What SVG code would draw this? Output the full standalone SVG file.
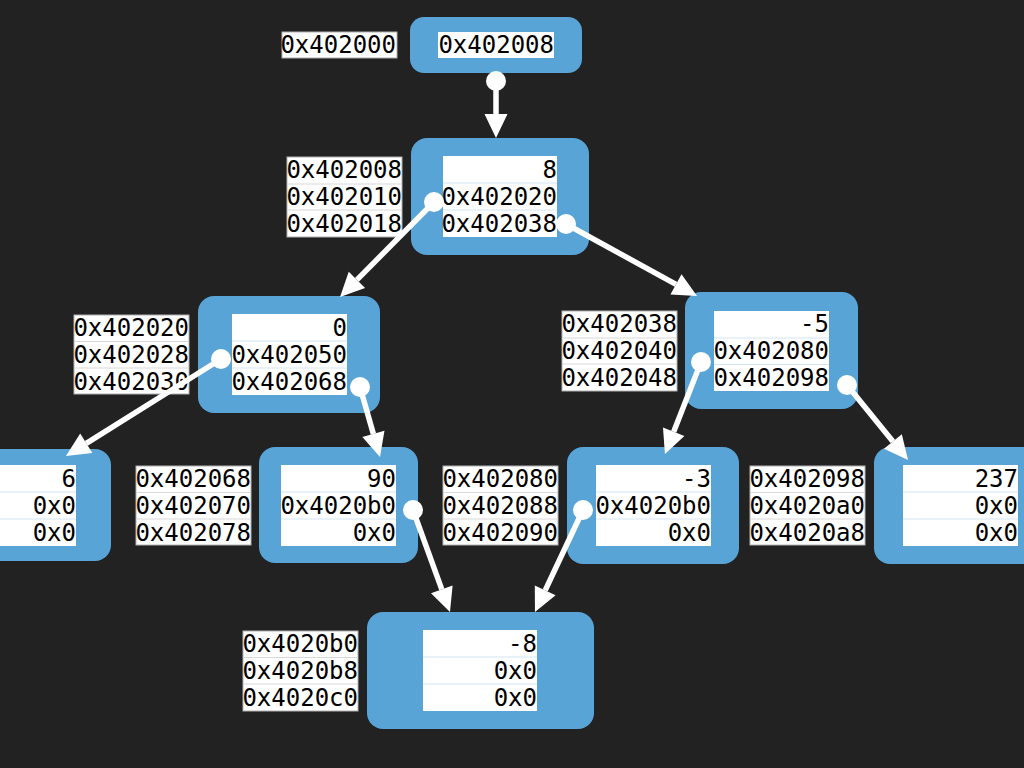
<svg xmlns="http://www.w3.org/2000/svg" width="1024" height="768" viewBox="0 0 1024 768">
<defs>
<style>
.bg{fill:#222222}
.node{fill:#58a4d6}
.tbl{fill:#ffffff}
.sepi{stroke:#d4e6f3;stroke-width:1.2}
.lbl{fill:#ffffff;stroke:#b0b0b0;stroke-width:1}
.sepl{stroke:#d8d8d8;stroke-width:1.2}
text{font-family:"DejaVu Sans Mono","Liberation Mono",monospace;font-size:24px;fill:#000;text-anchor:end}
.edge{stroke:#ffffff;stroke-width:5.5;fill:none;marker-end:url(#ah)}
.dot{fill:#ffffff}
</style>
<marker id="ah" markerUnits="userSpaceOnUse" viewBox="-1 -12 26 24" markerWidth="26" markerHeight="24" refX="0" refY="0" orient="auto">
<path d="M0,-11.5 L24,0 L0,11.5 z" fill="#ffffff"/>
</marker>
</defs>
<rect class="bg" x="0" y="0" width="1024" height="768"/>

<g id="node-top">
<rect class="lbl" x="282" y="32" width="115" height="26"/>
<text x="396" y="53">0x402000</text>
<rect class="node" x="410" y="17" width="172" height="56" rx="14"/>
<rect class="tbl" x="438" y="32" width="116" height="26"/>
<text x="554" y="53">0x402008</text>
</g>

<g id="node-a">
<rect class="lbl" x="287" y="157" width="115" height="80"/>
<line class="sepl" x1="287" y1="184" x2="402" y2="184"/>
<line class="sepl" x1="287" y1="210" x2="402" y2="210"/>
<text x="402" y="178">0x402008</text>
<text x="402" y="205">0x402010</text>
<text x="402" y="232">0x402018</text>
<rect class="node" x="411" y="138" width="178" height="117" rx="16"/>
<rect class="tbl" x="443" y="156" width="114" height="81"/>
<line class="sepi" x1="443" y1="183" x2="557" y2="183"/>
<line class="sepi" x1="443" y1="210" x2="557" y2="210"/>
<text x="557" y="177.5">8</text>
<text x="557" y="204.5">0x402020</text>
<text x="557" y="231.5">0x402038</text>
</g>

<g id="node-b">
<rect class="lbl" x="74" y="315" width="115" height="79"/>
<line class="sepl" x1="74" y1="341.5" x2="189" y2="341.5"/>
<line class="sepl" x1="74" y1="368" x2="189" y2="368"/>
<text x="189" y="336">0x402020</text>
<text x="189" y="363">0x402028</text>
<text x="189" y="390">0x402030</text>
<rect class="node" x="198" y="296" width="182" height="117" rx="16"/>
<rect class="tbl" x="232" y="314" width="115" height="81"/>
<line class="sepi" x1="232" y1="341" x2="347" y2="341"/>
<line class="sepi" x1="232" y1="368" x2="347" y2="368"/>
<text x="347" y="335.5">0</text>
<text x="347" y="362.5">0x402050</text>
<text x="347" y="389.5">0x402068</text>
</g>

<g id="node-c">
<rect class="node" x="-70" y="449" width="181" height="112" rx="16"/>
<rect class="tbl" x="-39" y="465" width="115" height="81"/>
<line class="sepi" x1="-39" y1="492" x2="76" y2="492"/>
<line class="sepi" x1="-39" y1="519" x2="76" y2="519"/>
<text x="76" y="486.5">6</text>
<text x="76" y="513.5">0x0</text>
<text x="76" y="540.5">0x0</text>
</g>

<g id="node-d">
<rect class="lbl" x="136" y="466" width="115" height="79"/>
<line class="sepl" x1="136" y1="492.5" x2="251" y2="492.5"/>
<line class="sepl" x1="136" y1="519" x2="251" y2="519"/>
<text x="251" y="487">0x402068</text>
<text x="251" y="514">0x402070</text>
<text x="251" y="541">0x402078</text>
<rect class="node" x="259" y="447" width="159" height="116" rx="16"/>
<rect class="tbl" x="281" y="465" width="115" height="81"/>
<line class="sepi" x1="281" y1="492" x2="396" y2="492"/>
<line class="sepi" x1="281" y1="519" x2="396" y2="519"/>
<text x="396" y="486.5">90</text>
<text x="396" y="513.5">0x4020b0</text>
<text x="396" y="540.5">0x0</text>
</g>

<g id="node-e">
<rect class="lbl" x="562" y="311" width="115" height="80"/>
<line class="sepl" x1="562" y1="338" x2="677" y2="338"/>
<line class="sepl" x1="562" y1="364" x2="677" y2="364"/>
<text x="677" y="332">0x402038</text>
<text x="677" y="359">0x402040</text>
<text x="677" y="386">0x402048</text>
<rect class="node" x="685" y="292" width="173" height="117" rx="16"/>
<rect class="tbl" x="714" y="311" width="115" height="80"/>
<line class="sepi" x1="714" y1="338" x2="829" y2="338"/>
<line class="sepi" x1="714" y1="364.5" x2="829" y2="364.5"/>
<text x="829" y="332">-5</text>
<text x="829" y="359">0x402080</text>
<text x="829" y="386">0x402098</text>
</g>

<g id="node-f">
<rect class="lbl" x="443" y="466" width="115" height="79"/>
<line class="sepl" x1="443" y1="492.5" x2="558" y2="492.5"/>
<line class="sepl" x1="443" y1="519" x2="558" y2="519"/>
<text x="558" y="487">0x402080</text>
<text x="558" y="514">0x402088</text>
<text x="558" y="541">0x402090</text>
<rect class="node" x="567" y="447" width="172" height="117" rx="16"/>
<rect class="tbl" x="596" y="465" width="115" height="81"/>
<line class="sepi" x1="596" y1="492" x2="711" y2="492"/>
<line class="sepi" x1="596" y1="519" x2="711" y2="519"/>
<text x="711" y="486.5">-3</text>
<text x="711" y="513.5">0x4020b0</text>
<text x="711" y="540.5">0x0</text>
</g>

<g id="node-g">
<rect class="lbl" x="750" y="466" width="115" height="79"/>
<line class="sepl" x1="750" y1="492.5" x2="865" y2="492.5"/>
<line class="sepl" x1="750" y1="519" x2="865" y2="519"/>
<text x="865" y="487">0x402098</text>
<text x="865" y="514">0x4020a0</text>
<text x="865" y="541">0x4020a8</text>
<rect class="node" x="874" y="447" width="180" height="117" rx="16"/>
<rect class="tbl" x="903" y="465" width="115" height="81"/>
<line class="sepi" x1="903" y1="492" x2="1018" y2="492"/>
<line class="sepi" x1="903" y1="519" x2="1018" y2="519"/>
<text x="1018" y="486.5">237</text>
<text x="1018" y="513.5">0x0</text>
<text x="1018" y="540.5">0x0</text>
</g>

<g id="node-h">
<rect class="lbl" x="243" y="631" width="115" height="80"/>
<line class="sepl" x1="243" y1="657.5" x2="358" y2="657.5"/>
<line class="sepl" x1="243" y1="684" x2="358" y2="684"/>
<text x="358" y="652">0x4020b0</text>
<text x="358" y="679">0x4020b8</text>
<text x="358" y="706">0x4020c0</text>
<rect class="node" x="367" y="612" width="227" height="117" rx="16"/>
<rect class="tbl" x="423" y="630" width="114" height="81"/>
<line class="sepi" x1="423" y1="657" x2="537" y2="657"/>
<line class="sepi" x1="423" y1="684" x2="537" y2="684"/>
<text x="537" y="651.5">-8</text>
<text x="537" y="678.5">0x0</text>
<text x="537" y="705.5">0x0</text>
</g>

<g id="connectors">
<path class="edge" d="M496,81 L496,114"/>
<path class="edge" d="M434,202 L356.9,279.9"/>
<path class="edge" d="M566,224 L676,284.4"/>
<path class="edge" d="M221,359 L86.3,443.3"/>
<path class="edge" d="M360,387 L373.4,433.9"/>
<path class="edge" d="M413,510 L441.8,589.4"/>
<path class="edge" d="M701,362 L673.7,431.7"/>
<path class="edge" d="M847,385 L892.9,441.4"/>
<path class="edge" d="M583,510 L545.2,590.3"/>
<circle class="dot" cx="496" cy="81" r="10"/>
<circle class="dot" cx="434" cy="202" r="10"/>
<circle class="dot" cx="566" cy="224" r="10"/>
<circle class="dot" cx="221" cy="359" r="10"/>
<circle class="dot" cx="360" cy="387" r="10"/>
<circle class="dot" cx="413" cy="510" r="10"/>
<circle class="dot" cx="701" cy="362" r="10"/>
<circle class="dot" cx="847" cy="385" r="10"/>
<circle class="dot" cx="583" cy="510" r="10"/>
</g>
</svg>
